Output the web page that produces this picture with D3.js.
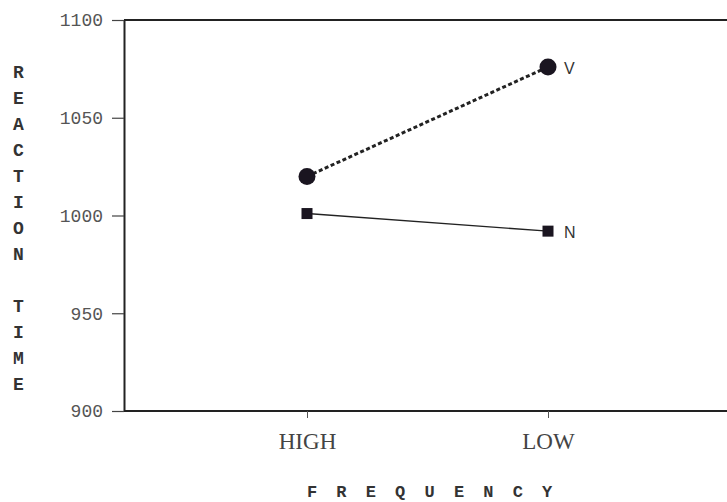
<!DOCTYPE html>
<html><head><meta charset="utf-8">
<script src="https://cdn.jsdelivr.net/npm/d3@7"></script>
<style>body{margin:0;background:#fff}svg{display:block}</style>
</head><body>
<script>
const categories = ["HIGH", "LOW"];
const seriesV = [1020, 1076];
const seriesN = [1001, 992];
const yTicks = [900, 950, 1000, 1050, 1100];
const yTitle = ["R","E","A","C","T","I","O","N","","T","I","M","E"];
const xTitle = ["F","R","E","Q","U","E","N","C","Y"];

const W = 727, H = 502;
const svg = d3.select("body").append("svg").attr("width", W).attr("height", H);
const mLeft = 124, mTop = 20, mBottom = 411, mRight = 727;

const y = d3.scaleLinear().domain([900, 1100]).range([mBottom, mTop]);
const x = d3.scalePoint().domain(categories).range([307, 548]);

// frame top line
svg.append("line").attr("x1", mLeft).attr("x2", mRight).attr("y1", mTop).attr("y2", mTop)
  .attr("stroke", "#222").attr("stroke-width", 2);

const yAxis = d3.axisLeft(y).tickValues(yTicks).tickFormat(d3.format("d"))
  .tickSize(12).tickPadding(9).tickSizeOuter(0);
const gy = svg.append("g").attr("transform", `translate(${mLeft},0)`).call(yAxis);
gy.select(".domain").attr("stroke", "#222").attr("stroke-width", 2);
gy.selectAll(".tick line").attr("stroke", "#444").attr("stroke-width", 1.2);
gy.selectAll(".tick text").attr("font-family", "Liberation Mono, monospace")
  .attr("font-size", 18).attr("fill", "#555");

const xAxis = d3.axisBottom(x).tickSize(7).tickPadding(14).tickSizeOuter(0);
const gx = svg.append("g").attr("transform", `translate(0,${mBottom})`).call(xAxis);
gx.select(".domain").attr("d", `M${mLeft},0H${mRight}`).attr("stroke", "#222").attr("stroke-width", 2);
gx.selectAll(".tick line").attr("stroke", "#555").attr("stroke-width", 1);
gx.selectAll(".tick text").attr("font-family", "Liberation Serif, serif")
  .attr("font-size", 23).attr("fill", "#444").attr("dy", null).attr("y", 38);

// y title stacked letters
svg.append("g").selectAll("text").data(yTitle).join("text")
  .attr("x", 18.5).attr("y", (d, i) => 72 + i * 26 + 6)
  .attr("text-anchor", "middle")
  .attr("font-family", "Liberation Mono, monospace").attr("font-weight", "bold")
  .attr("font-size", 18).attr("fill", "#333").text(d => d);

// x title spaced letters
svg.append("g").selectAll("text").data(xTitle).join("text")
  .attr("x", (d, i) => 312 + i * 29.4).attr("y", 497)
  .attr("text-anchor", "middle")
  .attr("font-family", "Liberation Mono, monospace").attr("font-weight", "bold")
  .attr("font-size", 17).attr("fill", "#333").text(d => d);

const line = d3.line().x((d, i) => x(categories[i])).y(d => y(d));

svg.append("path").datum(seriesV).attr("d", line).attr("fill", "none")
  .attr("stroke", "#222").attr("stroke-width", 3).attr("stroke-dasharray", "4,2.5");
svg.append("path").datum(seriesN).attr("d", line).attr("fill", "none")
  .attr("stroke", "#222").attr("stroke-width", 1.4);

svg.append("g").selectAll("circle").data(seriesV).join("circle")
  .attr("cx", (d, i) => x(categories[i])).attr("cy", d => y(d)).attr("r", 8.5)
  .attr("fill", "#1a1520");
svg.append("g").selectAll("rect").data(seriesN).join("rect")
  .attr("x", (d, i) => x(categories[i]) - 5.5).attr("y", d => y(d) - 5.5)
  .attr("width", 11).attr("height", 11).attr("fill", "#1a1520");

const labels = [{t: "V", v: seriesV[1]}, {t: "N", v: seriesN[1]}];
svg.append("g").selectAll("text").data(labels).join("text")
  .attr("x", x("LOW") + 16).attr("y", d => y(d.v) + 7)
  .attr("font-family", "Liberation Sans, Arial, sans-serif")
  .attr("font-size", 16).attr("fill", "#333").text(d => d.t);
</script>
</body></html>
